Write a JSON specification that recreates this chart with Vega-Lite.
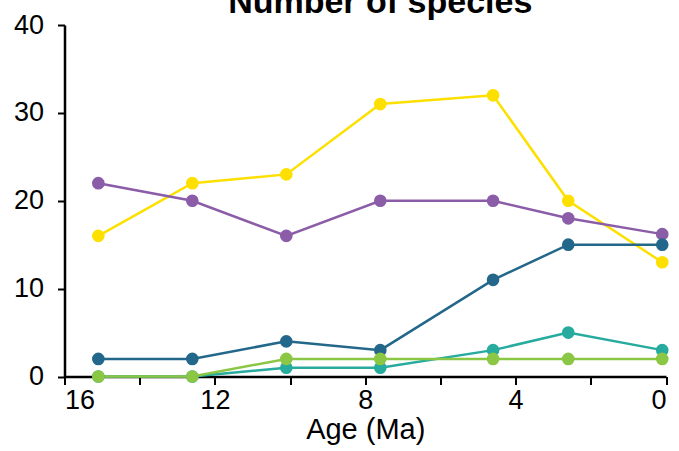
{
  "$schema": "https://vega.github.io/schema/vega-lite/v6.json",
  "width": 601.5,
  "height": 351.5,
  "autosize": {"type": "none"},
  "padding": {"left": 64.5, "top": 25, "right": 13, "bottom": 74.5},
  "background": "white",
  "title": {
    "text": "Number of species",
    "font": "Liberation Sans",
    "fontSize": 34,
    "fontWeight": "bold",
    "color": "black",
    "anchor": "middle",
    "frame": "group",
    "dx": 15,
    "dy": 36,
    "offset": 0,
    "baseline": "alphabetic"
  },
  "config": {
    "view": {"stroke": null},
    "axis": {
      "grid": false,
      "domainColor": "black",
      "domainWidth": 2.5,
      "tickColor": "black",
      "tickWidth": 2,
      "labelFont": "Liberation Sans",
      "labelFontSize": 27,
      "labelColor": "black",
      "titleFont": "Liberation Sans",
      "titleFontSize": 29,
      "titleFontWeight": "normal",
      "titleColor": "black"
    }
  },
  "data": {
    "values": [
      {"series": "S1", "age": 15.1, "n": 16},
      {"series": "S1", "age": 12.6, "n": 22},
      {"series": "S1", "age": 10.1, "n": 23},
      {"series": "S1", "age": 7.6, "n": 31},
      {"series": "S1", "age": 4.6, "n": 32},
      {"series": "S1", "age": 2.6, "n": 20},
      {"series": "S1", "age": 0.1, "n": 13},
      {"series": "S2", "age": 15.1, "n": 22},
      {"series": "S2", "age": 12.6, "n": 20},
      {"series": "S2", "age": 10.1, "n": 16},
      {"series": "S2", "age": 7.6, "n": 20},
      {"series": "S2", "age": 4.6, "n": 20},
      {"series": "S2", "age": 2.6, "n": 18},
      {"series": "S2", "age": 0.1, "n": 16.2},
      {"series": "S3", "age": 15.1, "n": 2},
      {"series": "S3", "age": 12.6, "n": 2},
      {"series": "S3", "age": 10.1, "n": 4},
      {"series": "S3", "age": 7.6, "n": 3},
      {"series": "S3", "age": 4.6, "n": 11},
      {"series": "S3", "age": 2.6, "n": 15},
      {"series": "S3", "age": 0.1, "n": 15},
      {"series": "S4", "age": 15.1, "n": 0},
      {"series": "S4", "age": 12.6, "n": 0},
      {"series": "S4", "age": 10.1, "n": 1},
      {"series": "S4", "age": 7.6, "n": 1},
      {"series": "S4", "age": 4.6, "n": 3},
      {"series": "S4", "age": 2.6, "n": 5},
      {"series": "S4", "age": 0.1, "n": 3},
      {"series": "S5", "age": 15.1, "n": 0},
      {"series": "S5", "age": 12.6, "n": 0},
      {"series": "S5", "age": 10.1, "n": 2},
      {"series": "S5", "age": 7.6, "n": 2},
      {"series": "S5", "age": 4.6, "n": 2},
      {"series": "S5", "age": 2.6, "n": 2},
      {"series": "S5", "age": 0.1, "n": 2}
    ]
  },
  "encoding": {
    "x": {
      "field": "age",
      "type": "quantitative",
      "scale": {"domain": [16, 0], "nice": false, "zero": false},
      "axis": {
        "title": "Age (Ma)",
        "values": [16, 14, 12, 10, 8, 6, 4, 2, 0],
        "labelExpr": "datum.value % 4 == 0 ? datum.label : ''",
        "tickSize": 8,
        "labelPadding": 3,
        "titlePadding": 2
      }
    },
    "y": {
      "field": "n",
      "type": "quantitative",
      "scale": {"domain": [0, 40], "nice": false},
      "axis": {
        "title": null,
        "values": [0, 10, 20, 30, 40],
        "tickSize": 7,
        "labelPadding": 14
      }
    },
    "color": {
      "field": "series",
      "type": "nominal",
      "legend": null,
      "scale": {
        "domain": ["S1", "S2", "S3", "S4", "S5"],
        "range": ["#FDE000", "#8B5CA8", "#23678A", "#26AB9E", "#8BC644"]
      }
    }
  },
  "layer": [
    {"mark": {"type": "line", "strokeWidth": 2.5}},
    {"mark": {"type": "circle", "size": 160, "opacity": 1}}
  ]
}
